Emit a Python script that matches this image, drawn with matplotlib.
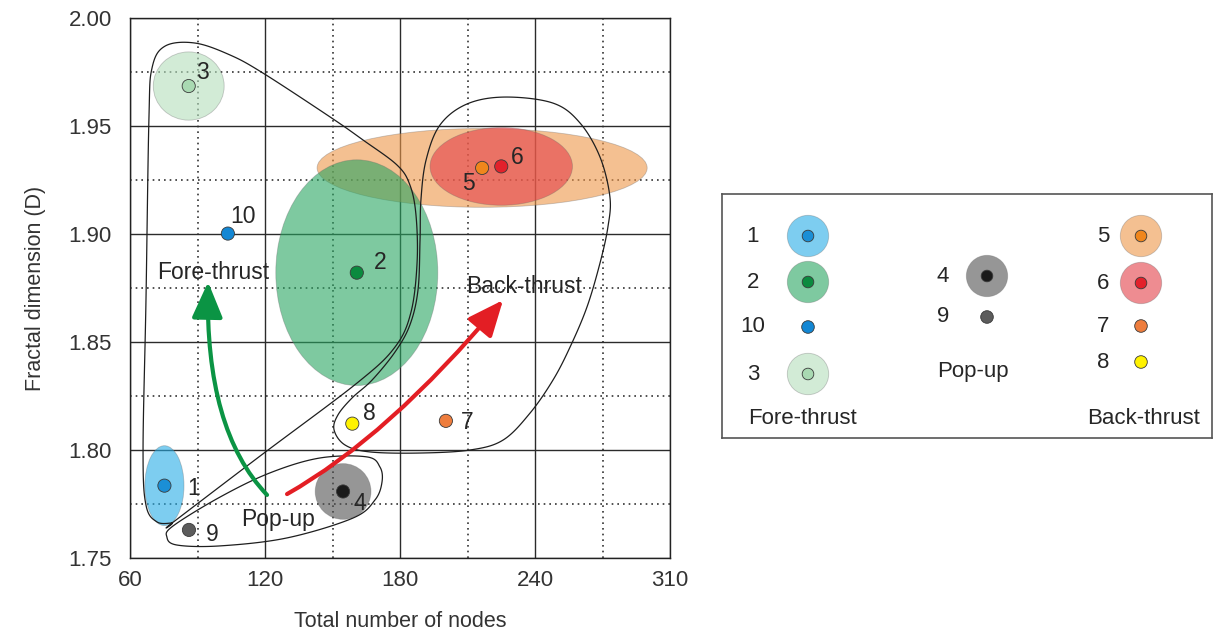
import numpy as np
import matplotlib
matplotlib.use("Agg")
import matplotlib.pyplot as plt
from matplotlib.patches import Ellipse, Circle, FancyArrowPatch, ArrowStyle, Polygon
from matplotlib.path import Path

plt.rcParams['font.family'] = ['Liberation Sans', 'DejaVu Sans']

# scenario results: total nodes vs fractal dimension
scenario = ['1', '2', '3', '4', '5', '6', '7', '8', '9', '10']
nodes = [75.3, 160.8, 86.1, 154.7, 216.5, 225.0, 200.4, 158.8, 86.2, 103.5]
frac_dim = [1.7835, 1.8821, 1.9685, 1.7808, 1.9306, 1.9313, 1.8135, 1.8122, 1.7630, 1.9002]
# spread of the runs (full width in nodes / full height in D), 0 = single run
spread_nodes = [17.4, 72.0, 31.5, 24.8, 146.7, 63.3, 0, 0, 0, 0]
spread_dim = [0.0370, 0.1045, 0.0316, 0.0258, 0.0365, 0.0360, 0, 0, 0, 0]

groups = {
    'Fore-thrust': ['1', '2', '10', '3'],
    'Pop-up': ['4', '9'],
    'Back-thrust': ['5', '6', '7', '8'],
}

xticks = [60, 120, 180, 240, 300]
xtick_labels = ['60', '120', '180', '240', '310']
yticks = [1.75, 1.80, 1.85, 1.90, 1.95, 2.00]

# hand drawn envelopes around each group (nodes, D)
fore_env_x = [78.7, 117.8, 160.9, 177.8, 184.9, 187.6, 187.1, 184.4, 178.7, 163.6,
              148.9, 119.1, 104.4, 88.9, 75.6, 69.8, 68.4, 67.1, 65.8, 67.1, 72.0]
fore_env_y = [1.7662, 1.7972, 1.8310, 1.8477, 1.8639, 1.8870, 1.9088, 1.9227, 1.9319, 1.9435,
              1.9542, 1.9745, 1.9829, 1.9884, 1.9870, 1.9769, 1.9528, 1.8694, 1.8000, 1.7745, 1.7667]
back_env_x = [226.7, 248.0, 260.0, 268.9, 273.3, 272.4, 268.9, 263.1, 255.6, 248.0,
              237.8, 225.8, 211.1, 188.9, 166.7, 155.6, 150.7, 152.4, 158.7, 167.6,
              177.8, 184.4, 188.0, 188.9, 189.3, 191.6, 197.8, 209.8]
back_env_y = [1.9634, 1.9606, 1.9514, 1.9356, 1.9171, 1.9032, 1.8866, 1.8662, 1.8477, 1.8324,
              1.8171, 1.8046, 1.8000, 1.7986, 1.7991, 1.8023, 1.8093, 1.8162, 1.8241, 1.8324,
              1.8454, 1.8579, 1.8741, 1.8972, 1.9157, 1.9343, 1.9505, 1.9602]
pop_env_x = [76.4, 79.1, 100.0, 122.2, 144.4, 165.3, 171.1, 172.0, 168.9, 159.1, 129.8, 100.0, 80.9]
pop_env_y = [1.7597, 1.7648, 1.7782, 1.7894, 1.7963, 1.7968, 1.7921, 1.7852, 1.7769, 1.7685,
             1.7593, 1.7556, 1.7560]

# evolution arrows: start, control, tip
fore_arrow = [(120.9, 1.7792), (93.3, 1.8093), (94.7, 1.8778)]
back_arrow = [(129.8, 1.7796), (174.7, 1.8060), (225.8, 1.8694)]

point_colors = {'1': '#1b8fd6', '2': '#0b8a3f', '3': '#a9d9b2', '4': '#1a1a1a',
                '5': '#f0861c', '6': '#e2212b', '7': '#ee7d3d', '8': '#fff200',
                '9': '#5c5c5c', '10': '#1387d4'}
halo_colors = {'1': '#26ace6', '2': '#28a561', '3': '#b4debc', '4': '#505050',
               '5': '#ee9648', '6': '#e43f48'}
halo_alpha = 0.6
label_offset = {'1': (21, -2), '2': (16.5, 7), '3': (10, 9.5), '4': (12, -9),
                '5': (-10, -11), '6': (11.5, 6.5), '7': (15, -1), '8': (12, 7),
                '9': (17, -3.5), '10': (11, 12.5)}
ink = '#262626'


def smooth_loop(xs, ys, sharp=(), n=30):
    # closed uniform Catmull-Rom through the control points
    pts = []
    for i, (x, y) in enumerate(zip(xs, ys)):
        pts.append((x, y))
        if i in sharp:
            pts.append((x, y))
    p = np.array(pts)
    m = len(p)
    t = np.linspace(0, 1, n, endpoint=False)[:, None]
    out = []
    for i in range(m):
        p0, p1, p2, p3 = p[(i - 1) % m], p[i], p[(i + 1) % m], p[(i + 2) % m]
        seg = 0.5 * ((2 * p1) + (-p0 + p2) * t + (2 * p0 - 5 * p1 + 4 * p2 - p3) * t ** 2
                     + (-p0 + 3 * p1 - 3 * p2 + p3) * t ** 3)
        out.append(seg)
    return np.vstack(out)


def curved_arrow(ax, ctrl, color):
    path = Path(ctrl, [Path.MOVETO, Path.CURVE3, Path.CURVE3])
    style = ArrowStyle('-|>', head_length=22, head_width=9.5)
    ax.add_patch(FancyArrowPatch(path=path, arrowstyle=style, mutation_scale=1,
                                 color=color, lw=3.0, zorder=4))


fig = plt.figure(figsize=(12.14, 6.35), dpi=100)
ax = fig.add_axes([130 / 1214, 77 / 635, 540 / 1214, 540 / 635])

# grid
ax.set_xlim(60, 300)
ax.set_ylim(1.75, 2.00)
ax.set_xticks(xticks)
ax.set_xticklabels(xtick_labels)
ax.set_xticks([90, 150, 210, 270], minor=True)
ax.set_yticks(yticks)
ax.set_yticklabels(['%.2f' % v for v in yticks])
ax.set_yticks([1.775, 1.825, 1.875, 1.925, 1.975], minor=True)
ax.set_axisbelow(True)
ax.grid(which='major', color='#2b2b2b', lw=1.0)
ax.grid(which='minor', color='#333333', lw=1.2, ls=(0, (1, 2.4)))
ax.tick_params(which='both', length=0)
ax.tick_params(axis='y', pad=13, labelsize=16, labelcolor='#333333')
ax.tick_params(axis='x', pad=9, labelsize=16, labelcolor='#333333')
for s in ax.spines.values():
    s.set_color('#222222')
    s.set_linewidth(1.0)

ax.set_xlabel('Total number of nodes', fontsize=15.5, color='#333333', labelpad=14)
ax.set_ylabel('Fractal dimension (D)', fontsize=15.5, color='#333333', labelpad=16)

# run spreads, back-thrust first so the green sits on top of the orange
for key in ['5', '6', '2', '1', '3', '4']:
    i = scenario.index(key)
    ax.add_patch(Ellipse((nodes[i], frac_dim[i]), spread_nodes[i], spread_dim[i],
                         facecolor=matplotlib.colors.to_rgba(halo_colors[key], halo_alpha),
                         edgecolor=(0.4, 0.4, 0.4, 0.35), lw=0.6, zorder=1))

# group envelopes
for xs, ys, sharp in [(fore_env_x, fore_env_y, (0,)),
                      (back_env_x, back_env_y, ()),
                      (pop_env_x, pop_env_y, ())]:
    ax.add_patch(Polygon(smooth_loop(xs, ys, sharp=sharp), closed=True, fill=False,
                         edgecolor='#1e1e1e', lw=0.9, joinstyle='round', zorder=3))

curved_arrow(ax, fore_arrow, '#0b9444')
curved_arrow(ax, back_arrow, '#e31e24')

ax.scatter(nodes, frac_dim, s=90, c=[point_colors[k] for k in scenario],
           edgecolors='#3a3a3a', linewidths=0.6, zorder=5)
for i, key in enumerate(scenario):
    ax.annotate(key, (nodes[i], frac_dim[i]), xytext=label_offset[key],
                textcoords='offset points', ha='center', va='center',
                fontsize=16.5, color=ink, zorder=6)

ax.text(96.9, 1.8824, 'Fore-thrust', ha='center', va='center', fontsize=16.5, color=ink, zorder=6)
ax.text(235.3, 1.8755, 'Back-thrust', ha='center', va='center', fontsize=16.5, color=ink, zorder=6)
ax.text(125.8, 1.768, 'Pop-up', ha='center', va='center', fontsize=16.5, color=ink, zorder=6)

# legend panel, drawn in pixel units
lg = fig.add_axes([722 / 1214, 197 / 635, 490 / 1214, 244 / 635])
lg.set_xlim(0, 490)
lg.set_ylim(244, 0)
lg.set_xticks([])
lg.set_yticks([])
for s in lg.spines.values():
    s.set_color('#555555')
    s.set_linewidth(1.2)

columns = {
    'Fore-thrust': dict(num_x=31, sym_x=86, rows=[42, 88, 133, 180], cap=(80, 224)),
    'Pop-up': dict(num_x=221, sym_x=265, rows=[82, 123], cap=(251, 178)),
    'Back-thrust': dict(num_x=381, sym_x=419, rows=[42, 89, 132, 168], cap=(422, 224)),
}
for name, col in columns.items():
    for key, ry in zip(groups[name], col['rows']):
        if key in halo_colors:
            lg.add_patch(Circle((col['sym_x'], ry), 20.7,
                                facecolor=matplotlib.colors.to_rgba(halo_colors[key], halo_alpha),
                                edgecolor=(0.4, 0.4, 0.4, 0.35), lw=0.6))
            r = 5.8
        else:
            r = 6.3
        lg.add_patch(Circle((col['sym_x'], ry), r, facecolor=point_colors[key],
                            edgecolor='#3a3a3a', lw=0.6, zorder=3))
        lg.text(col['num_x'], ry, key, ha='center', va='center', fontsize=16, color=ink)
    lg.text(col['cap'][0], col['cap'][1], name, ha='center', va='center',
            fontsize=16, color=ink)

fig.savefig('out.png', dpi=100)
